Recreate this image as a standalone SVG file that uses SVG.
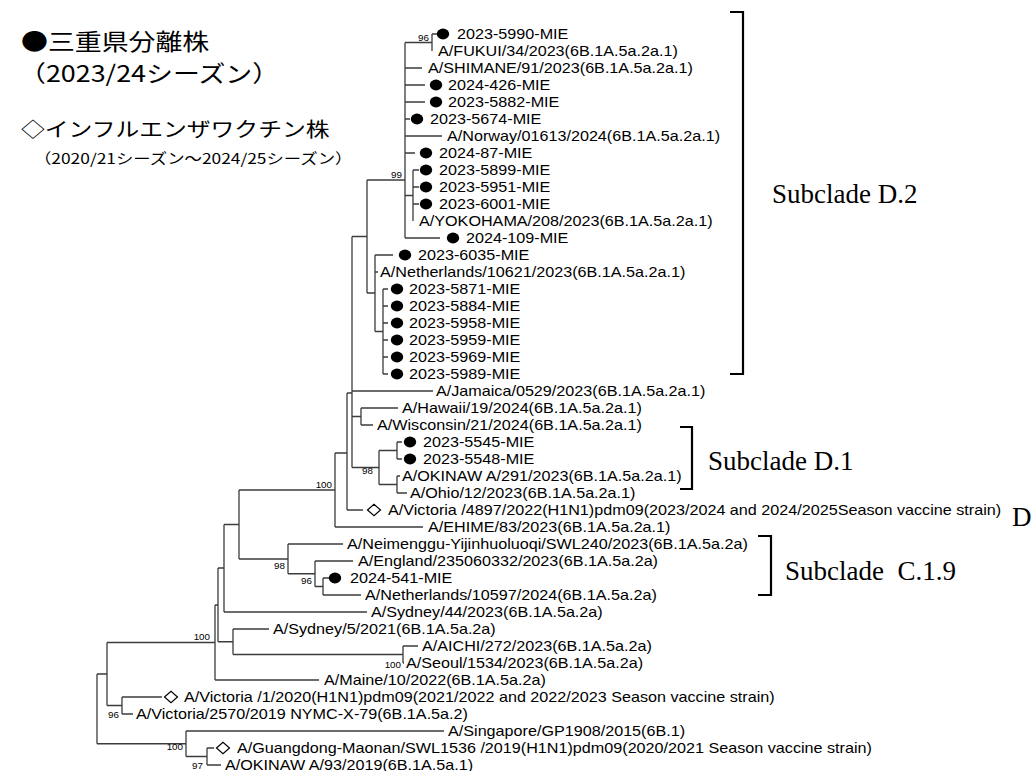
<svg xmlns="http://www.w3.org/2000/svg" width="1034" height="771" viewBox="0 0 1034 771">
<style>
.br{fill:none;stroke:#3c3c3c;stroke-width:1.3}
.bk{fill:none;stroke:#000;stroke-width:2.2}
.lb{font-family:"Liberation Sans",Arial,sans-serif;font-size:14px;fill:#000}
.bs{font-family:"Liberation Sans",Arial,sans-serif;font-size:8.5px;fill:#000;text-anchor:end}
.sc{font-family:"Liberation Serif","Times New Roman",serif;font-size:27px;fill:#000}
.jp{font-family:"Noto Sans CJK JP","Noto Sans CJK SC",sans-serif;fill:#000}
</style>
<defs>
<ellipse id="dot" cx="0" cy="0" rx="6.2" ry="5.4" fill="#000"/>
<path id="dia" d="M-6.5,0 L0,-5.6 L6.5,0 L0,5.6 Z" fill="#fff" stroke="#000" stroke-width="1.2"/>
</defs>
<rect width="1034" height="771" fill="#fff"/>

<g id="legend">
<text class="jp" font-size="23" transform="translate(21 50) scale(1.17 1)">●三重県分離株</text>
<text class="jp" font-size="23" transform="translate(19 82) scale(1.17 1)">（2023/24シーズン）</text>
<text class="jp" font-size="20" transform="translate(21 137) scale(1.19 1)">◇インフルエンザワクチン株</text>
<text class="jp" font-size="14.6" transform="translate(34 164) scale(1.19 1)">（2020/21シーズン～2024/25シーズン）</text>
</g>

<g id="connectors">
<path class="br" d="M432,34 V51 M405,42.5 H432 M432,34 H437 M405,42.5 V238 M405,68 H422 M405,85 H425 M405,102 H425 M405,119 H410 M405,136 H442 M405,153 H415 M405,195.5 H413 M413,170 V221 M413,170 H419 M413,187 H419 M413,204 H419 M405,238 H440"/>
<path class="br" d="M367,180 H405 M367,180 V293 M367,293 H375 M375,255 V331.5 M375,255 H393 M375,272 H378 M375,331.5 H383 M383,289 V374 M383,289 H388 M383,306 H388 M383,323 H388 M383,340 H388 M383,357 H388 M383,374 H388"/>
<path class="br" d="M352,236.5 H367 M352,236.5 V467.5 M352,391 H433 M352,416.5 H361 M361,408 V425 M361,408 H398 M361,425 H373"/>
<path class="br" d="M352,467.5 H379 M379,450.5 V484.5 M379,450.5 H397 M397,442 V459 M397,442 H402 M397,459 H402 M379,484.5 H397 M397,476 V493 M397,476 H400 M397,493 H407"/>
<path class="br" d="M347,393 H352 M347,393 V510 M347,510 H363 M335,453 H347 M335,453 V527 M335,527 H423 M239,490 H335"/>
<path class="br" d="M239,490 V559 M239,559 H288 M288,544 V573.75 M288,544 H343 M288,573.75 H315 M315,561 V586.5 M315,561 H353 M315,586.5 H323 M323,578 V595 M323,578 H329 M323,595 H361"/>
<path class="br" d="M224,524.5 H239 M224,524.5 V612 M224,612 H367 M218,568 H224 M218,568 V641.75 M218,641.75 H233 M233,629 V654.5 M233,629 H269 M233,654.5 H403 M403,646 V663 M403,646 H418 M403,663 H404"/>
<path class="br" d="M215,605 H218 M215,605 V680 M215,680 H319 M107,642.5 H215 M107,642.5 V705.5 M107,705.5 H122 M122,697 V714 M122,697 H162 M122,714 H133"/>
<path class="br" d="M97,674 H107 M97,674 V743.75 M97,743.75 H186 M186,731 V756.5 M186,731 H444 M186,756.5 H207 M207,748 V765 M207,748 H214 M207,765 H221"/>
</g>

<g id="bootstrap">
<text class="bs" transform="translate(429 41) scale(1.155 1)">96</text>
<text class="bs" transform="translate(402 178) scale(1.155 1)">99</text>
<text class="bs" transform="translate(373 474) scale(1.155 1)">98</text>
<text class="bs" transform="translate(332 488) scale(1.155 1)">100</text>
<text class="bs" transform="translate(285 569) scale(1.155 1)">98</text>
<text class="bs" transform="translate(312 584) scale(1.155 1)">96</text>
<text class="bs" transform="translate(210 640) scale(1.155 1)">100</text>
<text class="bs" transform="translate(401 668) scale(1.155 1)">100</text>
<text class="bs" transform="translate(119 718) scale(1.155 1)">96</text>
<text class="bs" transform="translate(183 750) scale(1.155 1)">100</text>
<text class="bs" transform="translate(203 769) scale(1.155 1)">97</text>
</g>

<g id="leaf-2023-5990"><use href="#dot" x="443" y="34"/><text class="lb" transform="translate(457 39) scale(1.155 1)">2023-5990-MIE</text></g>
<g id="leaf-fukui"><text class="lb" transform="translate(438 56) scale(1.155 1)">A/FUKUI/34/2023(6B.1A.5a.2a.1)</text></g>
<g id="leaf-shimane"><text class="lb" transform="translate(428 73) scale(1.155 1)">A/SHIMANE/91/2023(6B.1A.5a.2a.1)</text></g>
<g id="leaf-2024-426"><use href="#dot" x="436" y="85"/><text class="lb" transform="translate(448 90) scale(1.155 1)">2024-426-MIE</text></g>
<g id="leaf-2023-5882"><use href="#dot" x="436" y="102"/><text class="lb" transform="translate(448 107) scale(1.155 1)">2023-5882-MIE</text></g>
<g id="leaf-2023-5674"><use href="#dot" x="417" y="119"/><text class="lb" transform="translate(430 124) scale(1.155 1)">2023-5674-MIE</text></g>
<g id="leaf-norway"><text class="lb" transform="translate(447 141) scale(1.155 1)">A/Norway/01613/2024(6B.1A.5a.2a.1)</text></g>
<g id="leaf-2024-87"><use href="#dot" x="426" y="153"/><text class="lb" transform="translate(439 158) scale(1.155 1)">2024-87-MIE</text></g>
<g id="leaf-2023-5899"><use href="#dot" x="426" y="170"/><text class="lb" transform="translate(439 175) scale(1.155 1)">2023-5899-MIE</text></g>
<g id="leaf-2023-5951"><use href="#dot" x="426" y="187"/><text class="lb" transform="translate(439 192) scale(1.155 1)">2023-5951-MIE</text></g>
<g id="leaf-2023-6001"><use href="#dot" x="426" y="204"/><text class="lb" transform="translate(439 209) scale(1.155 1)">2023-6001-MIE</text></g>
<g id="leaf-yokohama"><text class="lb" transform="translate(419 226) scale(1.155 1)">A/YOKOHAMA/208/2023(6B.1A.5a.2a.1)</text></g>
<g id="leaf-2024-109"><use href="#dot" x="453" y="238"/><text class="lb" transform="translate(466 243) scale(1.155 1)">2024-109-MIE</text></g>
<g id="leaf-2023-6035"><use href="#dot" x="405" y="255"/><text class="lb" transform="translate(418 260) scale(1.155 1)">2023-6035-MIE</text></g>
<g id="leaf-netherlands-10621"><text class="lb" transform="translate(380 277) scale(1.155 1)">A/Netherlands/10621/2023(6B.1A.5a.2a.1)</text></g>
<g id="leaf-2023-5871"><use href="#dot" x="397" y="289"/><text class="lb" transform="translate(409 294) scale(1.155 1)">2023-5871-MIE</text></g>
<g id="leaf-2023-5884"><use href="#dot" x="397" y="306"/><text class="lb" transform="translate(409 311) scale(1.155 1)">2023-5884-MIE</text></g>
<g id="leaf-2023-5958"><use href="#dot" x="397" y="323"/><text class="lb" transform="translate(409 328) scale(1.155 1)">2023-5958-MIE</text></g>
<g id="leaf-2023-5959"><use href="#dot" x="397" y="340"/><text class="lb" transform="translate(409 345) scale(1.155 1)">2023-5959-MIE</text></g>
<g id="leaf-2023-5969"><use href="#dot" x="397" y="357"/><text class="lb" transform="translate(409 362) scale(1.155 1)">2023-5969-MIE</text></g>
<g id="leaf-2023-5989"><use href="#dot" x="397" y="374"/><text class="lb" transform="translate(409 379) scale(1.155 1)">2023-5989-MIE</text></g>
<g id="leaf-jamaica"><text class="lb" transform="translate(436 396) scale(1.155 1)">A/Jamaica/0529/2023(6B.1A.5a.2a.1)</text></g>
<g id="leaf-hawaii"><text class="lb" transform="translate(402 413) scale(1.155 1)">A/Hawaii/19/2024(6B.1A.5a.2a.1)</text></g>
<g id="leaf-wisconsin"><text class="lb" transform="translate(377 430) scale(1.155 1)">A/Wisconsin/21/2024(6B.1A.5a.2a.1)</text></g>
<g id="leaf-2023-5545"><use href="#dot" x="410" y="442"/><text class="lb" transform="translate(423 447) scale(1.155 1)">2023-5545-MIE</text></g>
<g id="leaf-2023-5548"><use href="#dot" x="410" y="459"/><text class="lb" transform="translate(423 464) scale(1.155 1)">2023-5548-MIE</text></g>
<g id="leaf-okinawa-291"><text class="lb" transform="translate(402 481) scale(1.155 1)">A/OKINAW A/291/2023(6B.1A.5a.2a.1)</text></g>
<g id="leaf-ohio"><text class="lb" transform="translate(410 498) scale(1.155 1)">A/Ohio/12/2023(6B.1A.5a.2a.1)</text></g>
<g id="leaf-victoria-4897"><use href="#dia" x="374" y="510"/><text class="lb" transform="translate(388 515) scale(1.155 1)">A/Victoria /4897/2022(H1N1)pdm09(2023/2024 and 2024/2025Season vaccine strain)</text></g>
<g id="leaf-ehime"><text class="lb" transform="translate(428 532) scale(1.155 1)">A/EHIME/83/2023(6B.1A.5a.2a.1)</text></g>
<g id="leaf-neimenggu"><text class="lb" transform="translate(347 549) scale(1.155 1)">A/Neimenggu-Yijinhuoluoqi/SWL240/2023(6B.1A.5a.2a)</text></g>
<g id="leaf-england"><text class="lb" transform="translate(358 566) scale(1.155 1)">A/England/235060332/2023(6B.1A.5a.2a)</text></g>
<g id="leaf-2024-541"><use href="#dot" x="335" y="578"/><text class="lb" transform="translate(350 583) scale(1.155 1)">2024-541-MIE</text></g>
<g id="leaf-netherlands-10597"><text class="lb" transform="translate(365 600) scale(1.155 1)">A/Netherlands/10597/2024(6B.1A.5a.2a)</text></g>
<g id="leaf-sydney-44"><text class="lb" transform="translate(371 617) scale(1.155 1)">A/Sydney/44/2023(6B.1A.5a.2a)</text></g>
<g id="leaf-sydney-5"><text class="lb" transform="translate(273 634) scale(1.155 1)">A/Sydney/5/2021(6B.1A.5a.2a)</text></g>
<g id="leaf-aichi"><text class="lb" transform="translate(422 651) scale(1.155 1)">A/AICHI/272/2023(6B.1A.5a.2a)</text></g>
<g id="leaf-seoul"><text class="lb" transform="translate(406 668) scale(1.155 1)">A/Seoul/1534/2023(6B.1A.5a.2a)</text></g>
<g id="leaf-maine"><text class="lb" transform="translate(324 685) scale(1.155 1)">A/Maine/10/2022(6B.1A.5a.2a)</text></g>
<g id="leaf-victoria-1"><use href="#dia" x="171" y="697"/><text class="lb" transform="translate(184 702) scale(1.155 1)">A/Victoria /1/2020(H1N1)pdm09(2021/2022 and 2022/2023 Season vaccine strain)</text></g>
<g id="leaf-victoria-2570"><text class="lb" transform="translate(136 719) scale(1.155 1)">A/Victoria/2570/2019 NYMC-X-79(6B.1A.5a.2)</text></g>
<g id="leaf-singapore"><text class="lb" transform="translate(448 736) scale(1.155 1)">A/Singapore/GP1908/2015(6B.1)</text></g>
<g id="leaf-guangdong"><use href="#dia" x="223" y="748"/><text class="lb" transform="translate(237 753) scale(1.155 1)">A/Guangdong-Maonan/SWL1536 /2019(H1N1)pdm09(2020/2021 Season vaccine strain)</text></g>
<g id="leaf-okinawa-93"><text class="lb" transform="translate(225 770) scale(1.155 1)">A/OKINAW A/93/2019(6B.1A.5a.1)</text></g>

<g id="subclade-d2"><path class="bk" d="M730,12 H743 V374 H730"/><text class="sc" x="772" y="203">Subclade D.2</text></g>
<g id="subclade-d1"><path class="bk" d="M680,427 H692 V489 H680"/><text class="sc" x="708" y="470">Subclade D.1</text></g>
<g id="subclade-c19"><path class="bk" d="M758,536 H771 V595 H758"/><text class="sc" x="785" y="580" xml:space="preserve">Subclade  C.1.9</text></g>
<g id="label-d"><text class="sc" x="1012" y="526">D</text></g>
</svg>
